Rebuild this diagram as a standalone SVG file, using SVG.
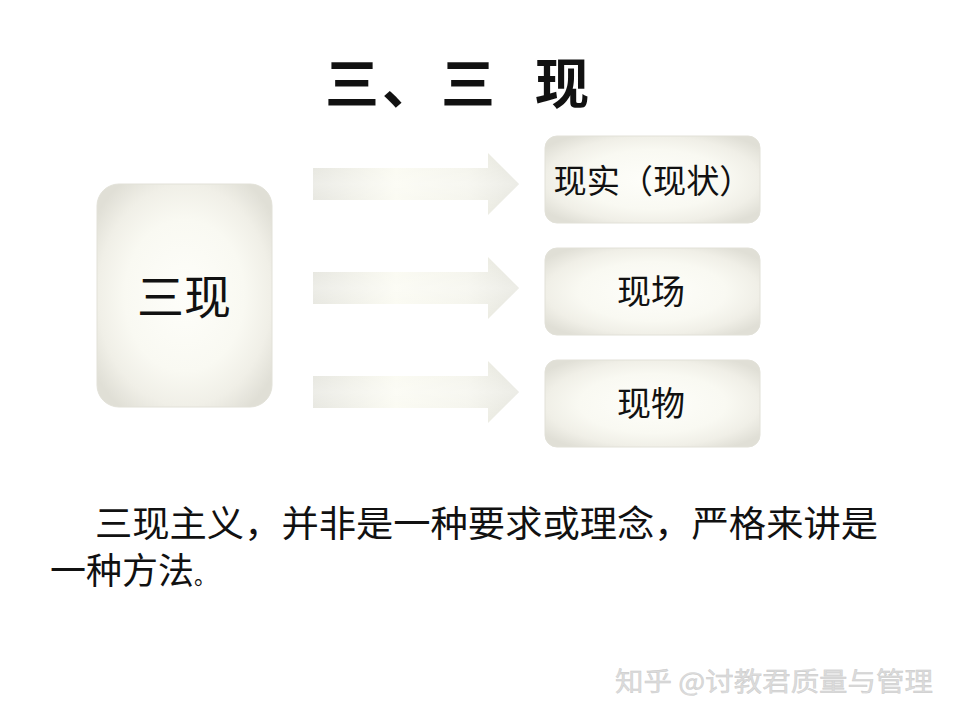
<svg xmlns="http://www.w3.org/2000/svg" width="960" height="720" viewBox="0 0 960 720">
  <defs>
    <radialGradient id="boxg" cx="0.5" cy="0.5" r="0.62">
      <stop offset="0" stop-color="#fefefa"/>
      <stop offset="0.55" stop-color="#f9f9f2"/>
      <stop offset="0.8" stop-color="#f0efe7"/>
      <stop offset="1" stop-color="#e0dfd6"/>
    </radialGradient>
    <linearGradient id="arrg" x1="0" y1="0" x2="1" y2="0">
      <stop offset="0" stop-color="#e3e3db"/>
      <stop offset="0.4" stop-color="#fafaf0"/>
      <stop offset="0.75" stop-color="#f3f3ea"/>
      <stop offset="1" stop-color="#e2e2d9"/>
    </linearGradient>
    <linearGradient id="arrv" x1="0" y1="0" x2="0" y2="1">
      <stop offset="0" stop-color="#ffffff" stop-opacity="0"/>
      <stop offset="0.5" stop-color="#ffffff" stop-opacity="0.35"/>
      <stop offset="1" stop-color="#ffffff" stop-opacity="0"/>
    </linearGradient>
    <path id="arrow" d="M0,-16 L175,-16 L175,-31 L206,0 L175,31 L175,16 L0,16 Z"/>
  </defs>
  <style>
    .box { fill: url(#boxg); stroke: #e2e1d8; stroke-width: 1; }
    .arr { fill: url(#arrg); }
    .arrh { fill: url(#arrv); }
    .lbl { font-family: "Noto Sans CJK SC", "Noto Sans", sans-serif; fill: #111; text-anchor: middle; }
    .body { font-family: "Noto Sans CJK SC", "Noto Sans", sans-serif; fill: #111; font-size: 36px; }
    .title { font-family: "Noto Sans CJK SC", sans-serif; font-weight: bold; font-size: 54px; fill: #111; }
  </style>
  <rect width="960" height="720" fill="#ffffff"/>

  <g id="title">
    <text class="title" y="104"><tspan x="325">三</tspan><tspan x="382">、</tspan><tspan x="441">三</tspan><tspan x="535">现</tspan></text>
  </g>

  <g id="node-sanxian">
    <rect class="box" x="97" y="184" width="175" height="223" rx="22"/>
    <text class="lbl" x="184" y="314" font-size="47">三现</text>
  </g>

  <g id="connectors">
    <g transform="translate(313,184)"><use href="#arrow" class="arr"/><use href="#arrow" class="arrh"/></g>
    <g transform="translate(313,288)"><use href="#arrow" class="arr"/><use href="#arrow" class="arrh"/></g>
    <g transform="translate(313,392)"><use href="#arrow" class="arr"/><use href="#arrow" class="arrh"/></g>
  </g>

  <g id="node-xianshi">
    <rect class="box" x="545" y="136" width="215" height="87" rx="12"/>
    <text class="lbl" x="653" y="193" font-size="33" textLength="199" lengthAdjust="spacingAndGlyphs">现实（现状）</text>
  </g>
  <g id="node-xianchang">
    <rect class="box" x="545" y="248" width="215" height="87" rx="12"/>
    <text class="lbl" x="651" y="304" font-size="34">现场</text>
  </g>
  <g id="node-xianwu">
    <rect class="box" x="545" y="360" width="215" height="87" rx="12"/>
    <text class="lbl" x="651" y="416" font-size="34">现物</text>
  </g>

  <g id="body-text">
    <text class="body" x="95" y="537" textLength="783" lengthAdjust="spacingAndGlyphs">三现主义，并非是一种要求或理念，严格来讲是</text>
    <text class="body" x="50" y="584">一种方法<tspan font-size="22">。</tspan></text>
  </g>

  <g id="watermark">
    <text x="615" y="691" font-family="Noto Sans CJK SC, sans-serif" font-size="26" fill="#dcdcdc" stroke="#c8c8c8" stroke-width="0.4" textLength="318" lengthAdjust="spacingAndGlyphs">知乎 @讨教君质量与管理</text>
  </g>
</svg>
